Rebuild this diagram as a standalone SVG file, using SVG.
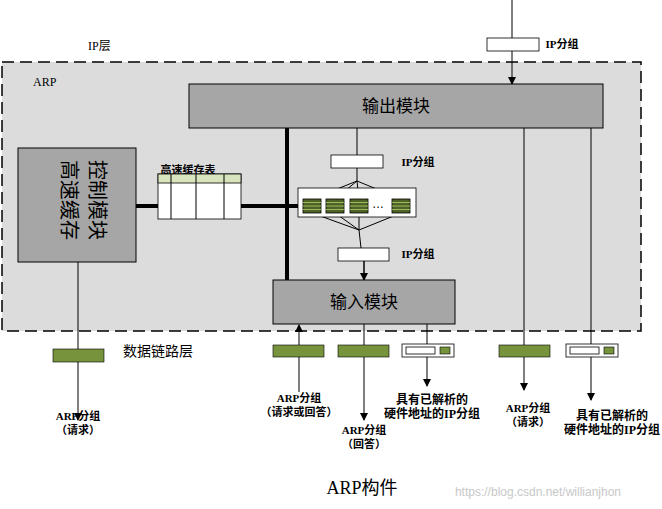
<svg xmlns="http://www.w3.org/2000/svg" width="662" height="509" viewBox="0 0 662 509">
<defs>
<marker id="ah" markerWidth="8" markerHeight="8" refX="7" refY="4" orient="auto" markerUnits="userSpaceOnUse"><path d="M0,0 L8,4 L0,8 Z" fill="#000"/></marker>
<g id="q"><rect width="18" height="14" fill="#4f6228" stroke="#000" stroke-width="0.8"/><path d="M0,3.5H18M0,7H18M0,10.5H18" stroke="#9bbb59" stroke-width="1"/></g>
<g id="pk"><rect width="52" height="13" fill="#fff" stroke="#000" stroke-width="0.8"/><rect x="4" y="3" width="29" height="7" fill="#fff" stroke="#000" stroke-width="0.8"/><rect x="38" y="3" width="10" height="7" fill="#77933c" stroke="#000" stroke-width="0.6"/></g>
</defs>
<style>
.t{font-family:"Liberation Serif","Noto Sans CJK SC",serif;font-size:12px;fill:#000}
.b{font-family:"Liberation Serif","Noto Sans CJK SC",serif;font-size:11px;font-weight:bold;fill:#000;text-anchor:middle}
.m{fill:#a6a6a6;stroke:#000;stroke-width:1}
.g{fill:#77933c;stroke:#000;stroke-width:0.6}
.w{fill:#fff;stroke:#000;stroke-width:0.8}
.l{stroke:#000;stroke-width:1;fill:none}
.k{stroke:#000;stroke-width:4;fill:none}
</style>
<rect width="662" height="509" fill="#fff"/>
<rect x="2" y="62" width="639" height="269" fill="#dcdcdc" stroke="#000" stroke-width="1.5" stroke-dasharray="12,6"/>
<text class="t" x="88" y="50" font-family="Liberation Sans">IP层</text>
<text class="t" x="33" y="86">ARP</text>
<text class="t" x="123" y="356" style="font-size:14px;font-family:'Noto Sans CJK SC',sans-serif">数据链路层</text>

<g id="connectors">
<path class="l" d="M512,0V84" marker-end="url(#ah)"/>
<path class="k" d="M287,128V281"/>
<path class="k" d="M136,206H158M241,206H299"/>
<path class="l" d="M357,128V155M357,168V181"/>
<path class="l" d="M357,181L312,199M357,181L335,199M357,181L359,199M357,181L401,199" marker-end="url(#ah)"/>
<path class="l" d="M312,213L359,230L335,213M359,213V230L401,213M359,230L361,248M364,261V280" />
<path class="l" d="M364,261V280" marker-end="url(#ah)"/>
<path class="l" d="M78,262V420" marker-end="url(#ah)"/>
<path class="l" d="M299,392V325" marker-end="url(#ah)"/>
<path class="l" d="M364,324V420" marker-end="url(#ah)"/>
<path class="l" d="M427,324V386" marker-end="url(#ah)"/>
<path class="l" d="M524,128V390" marker-end="url(#ah)"/>
<path class="l" d="M591,128V400" marker-end="url(#ah)"/>
</g>

<g id="output"><rect class="m" x="189" y="84" width="414" height="44"/><text x="396" y="112" text-anchor="middle" style="font-family:'Noto Sans CJK SC',sans-serif;font-size:17px">输出模块</text></g>
<g id="input"><rect class="m" x="273" y="280" width="182" height="44"/><text x="364" y="308" text-anchor="middle" style="font-family:'Noto Sans CJK SC',sans-serif;font-size:17px">输入模块</text></g>
<g id="cachectl"><rect class="m" x="18" y="148" width="118" height="114"/>
<text transform="translate(62,200) rotate(90)" text-anchor="middle" style="font-family:'Noto Sans CJK SC',sans-serif;font-size:20px">高速缓存</text>
<text transform="translate(90,200) rotate(90)" text-anchor="middle" style="font-family:'Noto Sans CJK SC',sans-serif;font-size:20px">控制模块</text></g>
<g id="cachetable"><text class="b" x="188" y="174" style="font-size:11px">高速缓存表</text>
<rect x="158" y="174" width="83" height="45" fill="#fff" stroke="#000" stroke-width="0.8"/>
<rect x="158" y="174" width="83" height="9" fill="#d7e4bd" stroke="#000" stroke-width="0.8"/>
<path class="l" d="M171,174V219M196,174V219M224,174V219"/></g>
<g id="ipin"><rect class="w" x="487" y="38" width="52" height="13"/><text class="b" x="562" y="48">IP分组</text></g>
<g id="ip1"><rect class="w" x="331" y="155" width="52" height="13"/><text class="b" x="418" y="166">IP分组</text></g>
<g id="queues"><rect class="w" x="298" y="188" width="118" height="29"/>
<use href="#q" x="303" y="199"/><use href="#q" x="326" y="199"/><use href="#q" x="350" y="199"/><use href="#q" x="392" y="199"/>
<text x="378" y="208" text-anchor="middle" font-family="Liberation Sans" font-size="12">…</text></g>
<g id="ip2"><rect class="w" x="338" y="248" width="51" height="13"/><text class="b" x="418" y="258">IP分组</text></g>

<g id="p1"><rect class="g" x="53" y="349" width="51" height="13"/><text class="b" x="78" y="420">ARP分组</text><text class="b" x="78" y="434">（请求）</text></g>
<g id="p2"><rect class="g" x="273" y="345" width="51" height="12"/><text class="b" x="299" y="402">ARP分组</text><text class="b" x="299" y="416">（请求或回答）</text></g>
<g id="p3"><rect class="g" x="338" y="345" width="51" height="12"/><text class="b" x="364" y="434">ARP分组</text><text class="b" x="364" y="448">（回答）</text></g>
<g id="p4"><use href="#pk" x="402" y="344"/><text class="b" x="432" y="404" style="font-size:12px">具有已解析的</text><text class="b" x="432" y="418" style="font-size:12px">硬件地址的IP分组</text></g>
<g id="p5"><rect class="g" x="499" y="345" width="51" height="12"/><text class="b" x="528" y="412">ARP分组</text><text class="b" x="528" y="426">（请求）</text></g>
<g id="p6"><use href="#pk" x="566" y="344"/><text class="b" x="612" y="420" style="font-size:12px">具有已解析的</text><text class="b" x="612" y="434" style="font-size:12px">硬件地址的IP分组</text></g>

<text x="362" y="494" text-anchor="middle" style="font-family:'Liberation Serif','Noto Sans CJK SC',serif;font-size:18px">ARP构件</text>
<text x="538" y="496" text-anchor="middle" style="font-family:'Liberation Sans',sans-serif;font-size:12px;fill:#c8c8c8">https://blog.csdn.net/willianjhon</text>
</svg>
